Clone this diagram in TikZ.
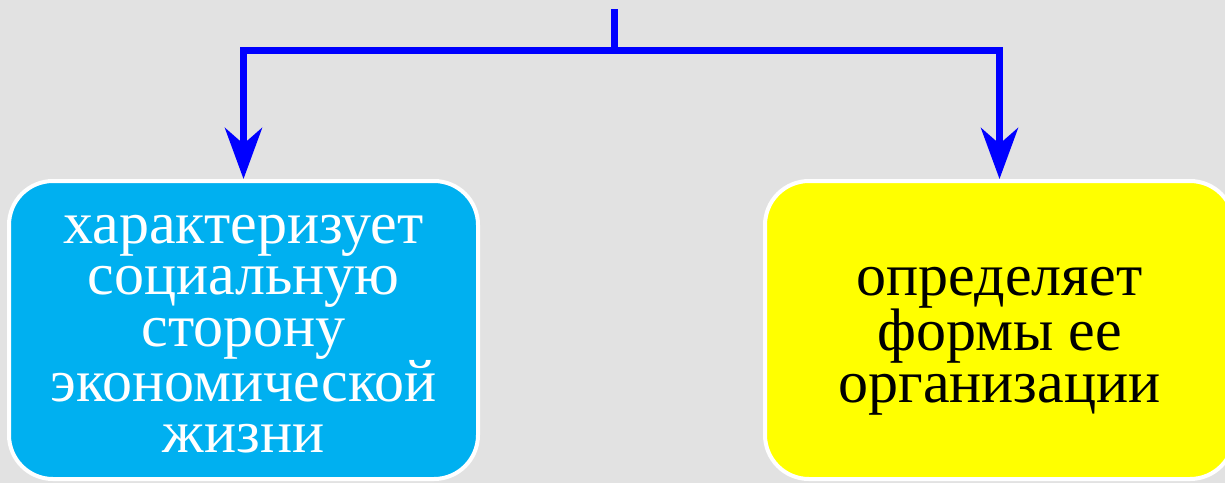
\documentclass[tikz,border=0pt]{standalone}
\usepackage{fontspec}
\setmainfont{Liberation Serif}
\usetikzlibrary{arrows.meta}
\definecolor{bg}{HTML}{E2E2E2}
\definecolor{cyanbox}{HTML}{00B0F0}
\definecolor{yelbox}{HTML}{FFFF00}
\definecolor{linkblue}{HTML}{0000FF}
\tikzset{
  box/.style={draw=white, line width=4pt, rounded corners=44pt, minimum width=469pt, minimum height=298pt, inner sep=0pt},
  txt/.style={align=center, inner sep=0pt, font=\fontsize{60}{51.5}\selectfont},
  link/.style={draw=linkblue, line width=7pt},
  linkarrow/.style={link, -{Stealth[length=51pt, width=37pt, inset=16pt]}}
}
\begin{document}
\begin{tikzpicture}[x=1pt, y=-1pt]
\fill[bg] (0,0) rectangle (1225,483);
\useasboundingbox (0,0) rectangle (1225,483);
\node[box, fill=cyanbox] (A) at (243.5,330) {};
\node[box, fill=yelbox] (B) at (999.5,330) {};
\node[txt, text=white] (tA) at (243.5,334) {характеризует\\социальную\\сторону\\экономической\\жизни};
\node[txt, text=black] (tB) at (999.5,341) {определяет\\формы ее\\организации};
\coordinate (top) at (614,9);
\coordinate (j) at (614,50.5);
\draw[link] (top) -- (j);
\draw[linkarrow] (j) -| (A.north);
\draw[linkarrow] (j) -| (B.north);
\end{tikzpicture}
\end{document}
